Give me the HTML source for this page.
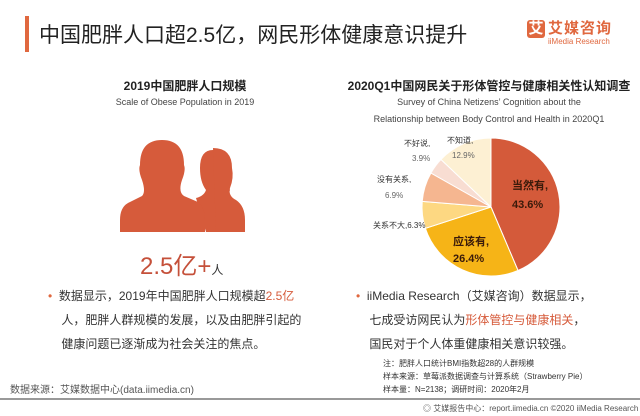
<!DOCTYPE html>
<html><head><meta charset="utf-8"><style>
body{margin:0;width:640px;height:416px;background:#fff;position:relative;overflow:hidden;font-family:"Liberation Sans","Noto Sans CJK SC",sans-serif;color:#333}
.a{position:absolute;white-space:nowrap}
</style></head><body>
<div class="a" style="left:25px;top:16px;width:4px;height:36px;background:#e0683f"></div>
<div class="a" style="left:39px;top:19px;font-size:21px;color:#222">中国肥胖人口超2.5亿，网民形体健康意识提升</div>
<div class="a" style="left:527px;top:20px;width:18px;height:18px;background:#e0683f;border-radius:3px;color:#fff;font-size:15px;line-height:18px;text-align:center;font-weight:bold">艾</div>
<div class="a" style="left:548px;top:17px;font-size:15px;color:#e0683f;font-weight:bold;letter-spacing:1px">艾媒咨询</div>
<div class="a" style="left:548px;top:37px;font-size:8px;color:#e0683f">iiMedia Research</div>

<div class="a" style="left:185px;top:77px;transform:translateX(-50%);font-size:12px;font-weight:bold;color:#222">2019中国肥胖人口规模</div>
<div class="a" style="left:185px;top:97px;transform:translateX(-50%);font-size:9px;color:#444">Scale of Obese Population in 2019</div>

<svg class="a" style="left:0;top:0" width="300" height="300">
<g fill="#d65b3b">
<path d="M216,232 L216,200 Q228,196 230,190 Q224,180 224,170 Q222,150 213,150 Q200,150 200,168 Q200,182 206,190 Q204,196 196,198 L206,232 Z"/>
<path d="M213,148 Q232,148 232,168 Q234,178 230,188 Q228,196 236,200 Q245,206 245,220 L245,232 L216,232 Z"/>
<path d="M162,140 Q184,140 184,165 Q186,170 182,180 Q178,192 184,196 L198,202 Q205,208 205,220 L205,232 L120,232 L120,220 Q120,206 130,202 L142,196 Q146,192 142,180 Q138,170 140,165 Q140,140 162,140 Z"/>
</g></svg>
<div class="a" style="left:140px;top:246px;font-size:24px;color:#c5503a">2.5亿+<span style="font-size:12px;color:#333">人</span></div>

<div class="a" style="left:489px;top:77px;transform:translateX(-50%);font-size:12px;font-weight:bold;color:#222">2020Q1中国网民关于形体管控与健康相关性认知调查</div>
<div class="a" style="left:489px;top:97px;transform:translateX(-50%);font-size:9px;color:#444">Survey of China Netizens’ Cognition about the</div>
<div class="a" style="left:489px;top:114px;transform:translateX(-50%);font-size:9px;color:#444">Relationship between Body Control and Health in 2020Q1</div>

<svg id="pie" class="a" style="left:0;top:0" width="640" height="300"></svg>

<div class="a" style="left:48px;top:284px;font-size:12px;line-height:24px;color:#333"><span style="color:#e0683f">•</span>&nbsp;&nbsp;数据显示，2019年中国肥胖人口规模超<span style="color:#d65b3b">2.5亿</span><br>&nbsp;&nbsp;&nbsp;&nbsp;人，肥胖人群规模的发展，以及由肥胖引起的<br>&nbsp;&nbsp;&nbsp;&nbsp;健康问题已逐渐成为社会关注的焦点。</div>
<div class="a" style="left:356px;top:284px;font-size:12px;line-height:24px;color:#333"><span style="color:#e0683f">•</span>&nbsp;&nbsp;iiMedia Research（艾媒咨询）数据显示，<br>&nbsp;&nbsp;&nbsp;&nbsp;七成受访网民认为<span style="color:#d65b3b">形体管控与健康相关</span>，<br>&nbsp;&nbsp;&nbsp;&nbsp;国民对于个人体重健康相关意识较强。</div>
<div class="a" style="left:383px;top:357px;font-size:8px;line-height:13px;color:#333">注：肥胖人口统计BMI指数超28的人群规模<br>样本来源：草莓派数据调查与计算系统（Strawberry Pie）<br>样本量：N=2138；调研时间：2020年2月</div>
<div class="a" style="left:10px;top:381px;font-size:10px;color:#555">数据来源：艾媒数据中心(data.iimedia.cn)</div>
<div class="a" style="left:0;top:398px;width:640px;height:2px;background:#999"></div>
<div class="a" style="left:423px;top:403px;font-size:8px;color:#555">◎ 艾媒报告中心：report.iimedia.cn  ©2020  iiMedia Research Inc</div>

<script>
const categories=["当然有","应该有","关系不大","没有关系","不好说","不知道"];
const values=[43.6,26.4,6.3,6.9,3.9,12.9];
const colors=["#d45a3a","#f6b417","#fdd882","#f5b690","#f8ddd2","#fdf0d3"];
const svg=document.getElementById('pie');const NS="http://www.w3.org/2000/svg";
const cx=491,cy=207,r=69;const tot=values.reduce((a,b)=>a+b,0);
function pt(a,rr){return [cx+rr*Math.sin(a),cy-rr*Math.cos(a)];}
let a0=0;
values.forEach((v,i)=>{const a1=a0+v/tot*2*Math.PI;const p0=pt(a0,r),p1=pt(a1,r);
const p=document.createElementNS(NS,'path');
p.setAttribute('d',`M${cx},${cy} L${p0[0]},${p0[1]} A${r},${r} 0 ${a1-a0>Math.PI?1:0} 1 ${p1[0]},${p1[1]} Z`);
p.setAttribute('fill',colors[i]);p.setAttribute('stroke','#fff');p.setAttribute('stroke-width','1');


svg.appendChild(p);a0=a1;});
const labels=[[530,189,530,208,11,true,"#3a1a0a"],[471,245,471,262,11,true,"#3a1a0a"],[405,228,null,null,8,false,"#333"],[385,182,393,198,8,false,"#333"],[412,146,420,161,8,false,"#333"],[455,143,460,158,8,false,"#333"]];
function txt(x,y,s,fs,b,c,name){const t=document.createElementNS(NS,'text');t.setAttribute('x',x);t.setAttribute('y',y);t.setAttribute('font-size',fs);if(b)t.setAttribute('font-weight','bold');t.setAttribute('fill',c);t.textContent=s;


svg.appendChild(t);}
labels.forEach((l,i)=>{if(l[2]===null){txt(l[0]-32,l[1],categories[i]+","+values[i]+"%",l[4],l[5],l[6],'slice-label-'+i);}else{txt(l[0]-(i<2?18:8),l[1],categories[i]+",",l[4],l[5],l[6],'slice-label-'+i);txt(l[2]-(i<2?18:8),l[3],values[i]+"%",l[4],l[5],i<2?l[6]:"#666",'slice-value-'+i);}});
</script>
</body></html>
